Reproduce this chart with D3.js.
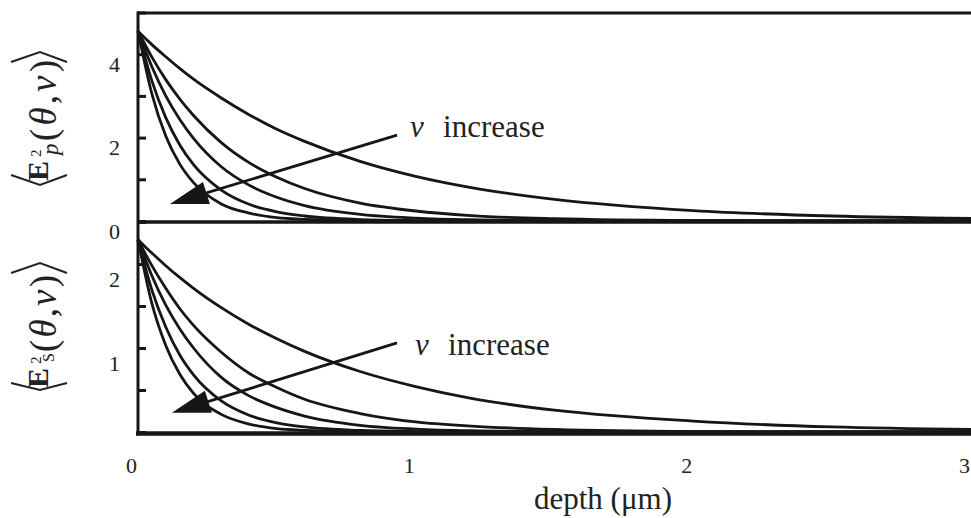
<!DOCTYPE html>
<html>
<head>
<meta charset="utf-8">
<script src="https://cdn.jsdelivr.net/npm/d3@7"></script>
<style>
  body { margin: 0; background: #fff; }
  svg { display: block; }
</style>
</head>
<body>
<div id="chart"></div>
<script>
// depth in micrometres, sampled along every curve
const depth = [0, 0.05, 0.1, 0.15, 0.2, 0.3, 0.4, 0.5, 0.6, 0.8, 1.0, 1.2, 1.5, 2.0, 2.5, 3.0];

// <E_p^2(theta,nu)>, nu increasing from ep1 to ep5
const ep1 = [4.55, 4.23, 3.94, 3.66, 3.40, 2.95, 2.55, 2.20, 1.91, 1.43, 1.07, 0.80, 0.52, 0.25, 0.12, 0.06];
const ep2 = [4.55, 3.93, 3.39, 2.93, 2.53, 1.88, 1.40, 1.05, 0.78, 0.43, 0.24, 0.13, 0.055, 0.01, 0, 0];
const ep3 = [4.55, 3.70, 3.00, 2.44, 1.98, 1.30, 0.86, 0.57, 0.37, 0.16, 0.07, 0.03, 0.01, 0, 0, 0];
const ep4 = [4.55, 3.36, 2.48, 1.83, 1.35, 0.74, 0.40, 0.22, 0.12, 0.035, 0.01, 0, 0, 0, 0, 0];
const ep5 = [4.55, 3.05, 2.04, 1.37, 0.92, 0.41, 0.19, 0.08, 0.04, 0.01, 0, 0, 0, 0, 0, 0];

// <E_s^2(theta,nu)>
const es1 = [2.29, 2.13, 1.98, 1.84, 1.71, 1.48, 1.28, 1.11, 0.96, 0.72, 0.54, 0.40, 0.26, 0.13, 0.06, 0.03];
const es2 = [2.29, 1.98, 1.71, 1.47, 1.27, 0.95, 0.70, 0.53, 0.39, 0.22, 0.12, 0.07, 0.03, 0.005, 0, 0];
const es3 = [2.29, 1.86, 1.51, 1.23, 1.00, 0.65, 0.43, 0.29, 0.19, 0.08, 0.035, 0.015, 0.005, 0, 0, 0];
const es4 = [2.29, 1.69, 1.25, 0.92, 0.68, 0.37, 0.20, 0.11, 0.06, 0.018, 0.005, 0, 0, 0, 0, 0];
const es5 = [2.29, 1.53, 1.03, 0.69, 0.46, 0.21, 0.095, 0.04, 0.02, 0.005, 0, 0, 0, 0, 0, 0];

const xTicks = [0, 1, 2, 3];
const epTicks = [0, 1, 2, 3, 4, 5];
const epLabels = [0, 2, 4];
const esTicks = [0, 0.5, 1, 1.5, 2, 2.5];
const esLabels = [1, 2];

const width = 971, height = 518;
const ink = "#161616";
const serif = "'Liberation Serif', 'Times New Roman', serif";

const svg = d3.select("#chart").append("svg")
    .attr("width", width)
    .attr("height", height)
    .attr("font-family", serif);

const x = d3.scaleLinear().domain([0, 3]).range([138, 971]);
const yTop = d3.scaleLinear().domain([0, 5]).range([221, 12.5]);
const yBot = d3.scaleLinear().domain([0, 2.5]).range([432, 222]);

// frame
svg.append("line").attr("x1", 137).attr("x2", width + 5).attr("y1", 13).attr("y2", 13)
    .attr("stroke", ink).attr("stroke-width", 3);
svg.append("line").attr("x1", 137).attr("x2", width + 5).attr("y1", 222).attr("y2", 222)
    .attr("stroke", ink).attr("stroke-width", 3.5);
svg.append("line").attr("x1", 136).attr("x2", width + 5).attr("y1", 433.5).attr("y2", 433.5)
    .attr("stroke", ink).attr("stroke-width", 4.5);
svg.append("line").attr("x1", 138).attr("x2", 138).attr("y1", 11.5).attr("y2", 435.5)
    .attr("stroke", ink).attr("stroke-width", 3);

function styleAxis(g, dy) {
  g.attr("font-family", serif).attr("font-size", 22);
  g.select(".domain").remove();
  g.selectAll("line").attr("stroke", ink).attr("stroke-width", 3);
  g.selectAll("text").attr("fill", "#222").attr("dy", dy);
}

svg.append("g").attr("transform", "translate(138,0)")
    .call(d3.axisLeft(yTop).tickValues(epTicks).tickSize(-8).tickSizeOuter(0).tickPadding(18)
      .tickFormat(d => epLabels.includes(d) ? d : ""))
    .call(g => styleAxis(g, "0.78em"));

svg.append("g").attr("transform", "translate(138,0)")
    .call(d3.axisLeft(yBot).tickValues(esTicks).tickSize(-8).tickSizeOuter(0).tickPadding(18)
      .tickFormat(d => esLabels.includes(d) ? d : ""))
    .call(g => styleAxis(g, "1.0em"));

svg.append("g").attr("transform", "translate(-7,434)")
    .call(d3.axisBottom(x).tickValues(xTicks).tickSize(0).tickPadding(23).tickFormat(d3.format("d")))
    .call(g => styleAxis(g, "0.71em"));

svg.append("text")
    .attr("x", 603).attr("y", 509)
    .attr("text-anchor", "middle")
    .attr("font-size", 31)
    .attr("fill", "#222")
    .text("depth (μm)");

// curves
function drawCurves(y, series) {
  const line = d3.line()
      .x((d, i) => x(depth[i]))
      .y(d => y(d))
      .curve(d3.curveMonotoneX);
  svg.append("g").selectAll("path")
    .data(series)
    .join("path")
      .attr("d", line)
      .attr("fill", "none")
      .attr("stroke", ink)
      .attr("stroke-width", 2.8);
}
drawCurves(yTop, [ep1, ep2, ep3, ep4, ep5]);
drawCurves(yBot, [es1, es2, es3, es4, es5]);

// "nu increase" arrows
function arrow(y, from, to, labelAt) {
  const x0 = x(from[0]), y0 = y(from[1]);
  const x1 = x(to[0]), y1 = y(to[1]);
  svg.append("line")
      .attr("x1", x0).attr("y1", y0).attr("x2", x1 + 10).attr("y2", y1 - 3)
      .attr("stroke", ink).attr("stroke-width", 2.8);
  svg.append("path")
      .attr("d", `M${x1},${y1} L${x1 + 33},${y1 - 22} L${x1 + 40},${y1} Z`)
      .attr("fill", ink);
  const lx = x(labelAt[0]), ly = y(labelAt[1]);
  svg.append("text").attr("x", lx).attr("y", ly).attr("font-size", 31)
      .attr("font-style", "italic").attr("fill", "#222").text("ν");
  svg.append("text").attr("x", lx + 33).attr("y", ly).attr("font-size", 31)
      .attr("fill", "#222").text("increase");
}
arrow(yTop, [0.933, 2.06], [0.115, 0.41], [0.98, 2.01]);
arrow(yBot, [0.933, 1.06], [0.122, 0.23], [0.998, 0.92]);

// rotated y titles  <E^2_p(theta,nu)>
function yTitle(cy, sub, subItalic, o) {
  const g = svg.append("g")
      .attr("transform", `translate(48,${cy}) rotate(-90)`)
      .attr("fill", "#222");
  g.append("path")
      .attr("d", `M${o.l[0]},-37 L${o.l[1]},-8 L${o.l[0]},19 M${o.r[0]},-37 L${o.r[1]},-8 L${o.r[0]},19`)
      .attr("fill", "none").attr("stroke", "#222").attr("stroke-width", 2);
  g.append("text").attr("x", o.e).attr("y", 0).attr("font-size", 30)
      .attr("font-weight", "bold").text("E");
  g.append("text").attr("x", o.e + 24).attr("y", -7).attr("font-size", 15).text("2");
  g.append("text").attr("x", o.e + 26).attr("y", subItalic ? 10 : 6)
      .attr("font-size", subItalic ? 23 : 16)
      .attr("font-style", subItalic ? "italic" : null).text(sub);
  const t = g.append("text").attr("x", o.p).attr("y", 8).attr("font-size", 37)
      .attr("textLength", o.len).attr("lengthAdjust", "spacing");
  t.append("tspan").text("(");
  t.append("tspan").attr("font-style", "italic").text("θ");
  t.append("tspan").text(",");
  t.append("tspan").attr("font-style", "italic").text("ν");
  t.append("tspan").text(")");
}
yTitle(118, "p", true, {l: [-57, -67], r: [56, 66], e: -63, p: -23, len: 81});
yTitle(326, "S", false, {l: [-57, -64], r: [53, 63], e: -62, p: -26, len: 77});
</script>
</body>
</html>
